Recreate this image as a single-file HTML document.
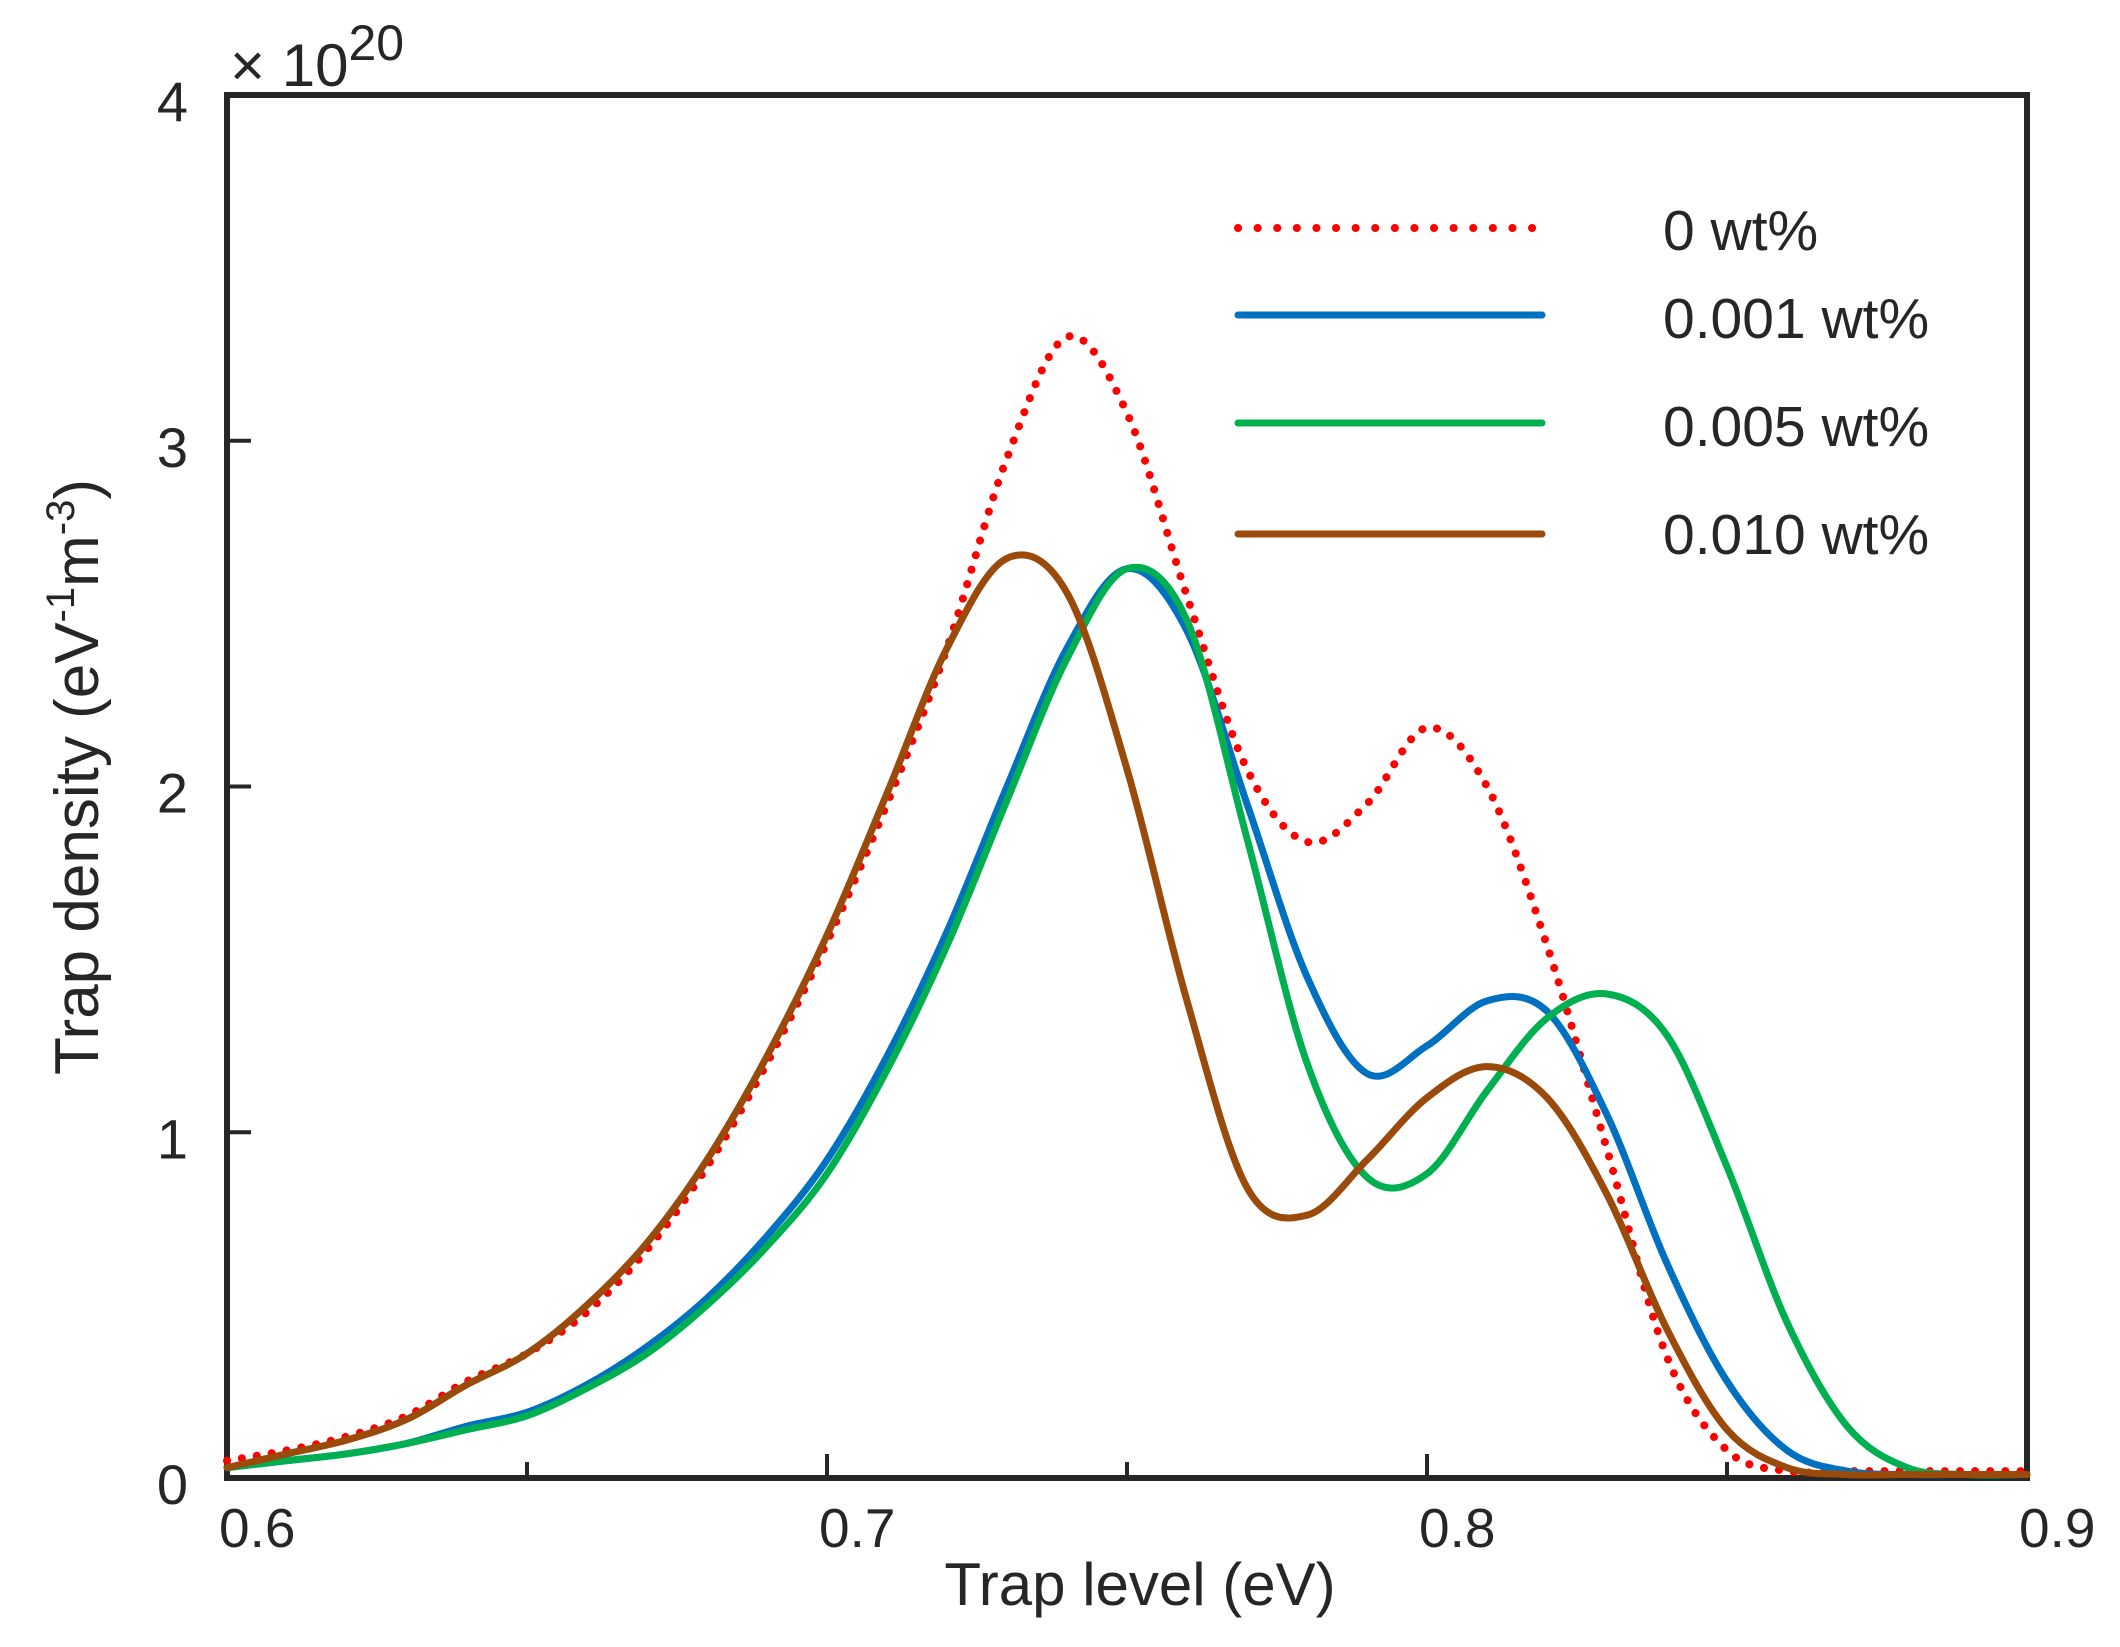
<!DOCTYPE html>
<html><head><meta charset="utf-8"><style>
html,body{margin:0;padding:0;background:#fff}
svg{display:block;font-family:"Liberation Sans",Arial,sans-serif}
</style></head><body>
<svg id="chart" width="2120" height="1647" viewBox="0 0 2120 1647" xmlns="http://www.w3.org/2000/svg">
<g id="axes"></g>
<g id="series"></g>
<g id="legend"></g>
</svg>
<script>
const xValues = [0.60,0.61,0.62,0.63,0.64,0.65,0.66,0.67,0.68,0.69,0.70,0.71,0.72,0.73,0.74,0.75,0.76,0.77,0.78,0.79,0.80,0.81,0.82,0.83,0.84,0.85,0.86,0.87,0.88,0.89,0.90];
const series0 = [0.05,0.08,0.12,0.18,0.28,0.36,0.48,0.66,0.90,1.20,1.55,1.95,2.40,2.95,3.30,3.08,2.55,2.05,1.84,1.95,2.17,2.00,1.54,0.95,0.35,0.08,0.02,0.02,0.02,0.02,0.02];
const series001 = [0.03,0.05,0.07,0.10,0.15,0.19,0.27,0.38,0.52,0.70,0.92,1.22,1.58,2.00,2.40,2.63,2.45,1.95,1.45,1.17,1.25,1.38,1.35,1.05,0.62,0.28,0.08,0.02,0.01,0.01,0.01];
const series005 = [0.03,0.05,0.07,0.10,0.14,0.18,0.26,0.36,0.50,0.67,0.88,1.18,1.54,1.96,2.37,2.63,2.48,1.85,1.20,0.87,0.88,1.12,1.33,1.40,1.28,0.90,0.45,0.15,0.03,0.01,0.01];
const series010 = [0.03,0.07,0.11,0.17,0.27,0.36,0.50,0.68,0.92,1.22,1.57,1.98,2.40,2.66,2.56,2.05,1.38,0.84,0.76,0.92,1.10,1.19,1.10,0.82,0.43,0.14,0.03,0.01,0.01,0.01,0.01];
const seriesNames = ["0 wt%","0.001 wt%","0.005 wt%","0.010 wt%"];
const xTicks = [0.6,0.7,0.8,0.9];
const xMinorTicks = [0.65,0.75,0.85];
const yTicks = [0,1,2,3,4];

const L=227,R=2027,T=95,B=1478;
const X0=0.6,X1=0.9,Y0=0,Y1=4;
function sx(v){return L+(v-X0)/(X1-X0)*(R-L);}
function sy(v){return B-(v-Y0)/(Y1-Y0)*(B-T);}
const NS="http://www.w3.org/2000/svg";
function mk(tag,attrs,parent,text){const e=document.createElementNS(NS,tag);for(const k in attrs)e.setAttribute(k,attrs[k]);if(text!==undefined)e.textContent=text;parent.appendChild(e);return e;}
const axes=document.getElementById('axes');
const sg=document.getElementById('series');
const lg=document.getElementById('legend');
const ink="#262626";

function smoothPath(xs,ys){
  const p=xs.map((x,i)=>[sx(x),sy(ys[i])]);
  let d="M"+p[0][0].toFixed(1)+","+p[0][1].toFixed(1);
  for(let i=0;i<p.length-1;i++){
    const p0=p[Math.max(0,i-1)],p1=p[i],p2=p[i+1],p3=p[Math.min(p.length-1,i+2)];
    const c1=[p1[0]+(p2[0]-p0[0])/6,p1[1]+(p2[1]-p0[1])/6];
    const c2=[p2[0]-(p3[0]-p1[0])/6,p2[1]-(p3[1]-p1[1])/6];
    d+=" C"+c1[0].toFixed(1)+","+c1[1].toFixed(1)+" "+c2[0].toFixed(1)+","+c2[1].toFixed(1)+" "+p2[0].toFixed(1)+","+p2[1].toFixed(1);
  }
  return d;
}

const styles=[
  {c:"#ff0000",dash:"0.1 15",w:8,name:"series-0-wt"},
  {c:"#0070c0",dash:null,w:7,name:"series-0-001-wt"},
  {c:"#00b050",dash:null,w:7,name:"series-0-005-wt"},
  {c:"#9a4a0a",dash:null,w:7,name:"series-0-010-wt"}
];
const data=[series0,series001,series005,series010];
[0,1,2,3].forEach(i=>{
  const s=styles[i];
  const a={d:smoothPath(xValues,data[i]),fill:"none",stroke:s.c,"stroke-width":s.w,"stroke-linecap":"round","stroke-linejoin":"round"};
  if(s.dash)a["stroke-dasharray"]=s.dash;
  const p=mk('path',a,sg);
  
  
});

const fr=mk('rect',{x:L,y:T,width:R-L,height:B-T,fill:"none",stroke:ink,"stroke-width":6},axes);



xTicks.forEach(v=>{
  const t=mk('line',{x1:sx(v),x2:sx(v),y1:B,y2:B-24,stroke:ink,"stroke-width":4},axes);
  
  
  const lb=mk('text',{x:sx(v)-8,y:1547,"font-size":55,fill:ink},axes,String(v));
  
  
});
xMinorTicks.forEach(v=>{
  const t=mk('line',{x1:sx(v),x2:sx(v),y1:B,y2:B-16,stroke:ink,"stroke-width":4},axes);
  
  
});
yTicks.forEach(v=>{
  if(v>0&&v<4){
    const t=mk('line',{x1:L,x2:L+24,y1:sy(v),y2:sy(v),stroke:ink,"stroke-width":4},axes);
    
    
  }
  const lb=mk('text',{x:188,y:sy(v)+26,"font-size":56,fill:ink,"text-anchor":"end"},axes,String(v));
  
  
});

const ex=mk('text',{x:230,y:86,"font-size":60,fill:ink},axes);


mk('tspan',{},ex,"× 10");
mk('tspan',{dy:-26,"font-size":50},ex,"20");

const xt=mk('text',{x:1140,y:1605,"font-size":60,fill:ink,"text-anchor":"middle"},axes,"Trap level (eV)");


const yt=mk('text',{transform:"translate(98,777) rotate(-90)","font-size":62,fill:ink,"text-anchor":"middle"},axes);


mk('tspan',{},yt,"Trap density (eV");
mk('tspan',{dy:-24,"font-size":40},yt,"-1");
mk('tspan',{dy:24},yt,"m");
mk('tspan',{dy:-24,"font-size":40},yt,"-3");
mk('tspan',{dy:24},yt,")");

const legY=[228,315,423,534];
const legTY=[250,338,446,554];
seriesNames.forEach((n,i)=>{
  const s=styles[i];
  const a={x1:1238,x2:1542,y1:legY[i],y2:legY[i],stroke:s.c,"stroke-width":s.w,"stroke-linecap":"round"};
  if(s.dash)a["stroke-dasharray"]="0.1 19.5";
  const l=mk('line',a,lg);
  
  
  const t=mk('text',{x:1663,y:legTY[i],"font-size":57,fill:ink},lg,n);
  
  
});
</script>
</body></html>
